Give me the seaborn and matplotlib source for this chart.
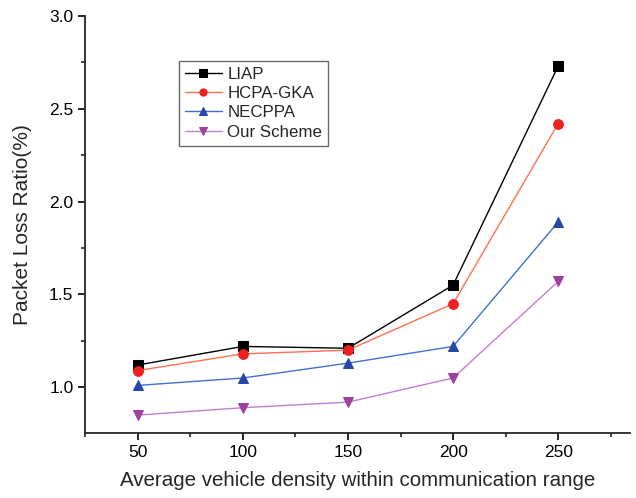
import seaborn as sns
import matplotlib.pyplot as plt
import pandas as pd

# Values
density = [50, 100, 150, 200, 250]
liap = [1.12, 1.22, 1.21, 1.55, 2.73]
hcpa_gka = [1.09, 1.18, 1.20, 1.45, 2.42]
necppa = [1.01, 1.05, 1.13, 1.22, 1.89]
our_scheme = [0.85, 0.89, 0.92, 1.05, 1.57]

series = [
    ('LIAP', liap, 's', '#000000', '#000000'),
    ('HCPA-GKA', hcpa_gka, 'o', '#FF7050', '#EE2020'),
    ('NECPPA', necppa, '^', '#4070D0', '#2848A8'),
    ('Our Scheme', our_scheme, 'v', '#C080D0', '#A040A0'),
]

sns.set_style("ticks")
plt.rcParams['font.family'] = ['Liberation Sans', 'DejaVu Sans']

fig = plt.figure(figsize=(6.36, 4.98), dpi=100)
ax = fig.add_axes([0.134, 0.131, 0.856, 0.837])

for name, vals, marker, line_c, mark_c in series:
    df = pd.DataFrame({'density': density, 'ratio': vals})
    sns.lineplot(data=df, x='density', y='ratio', ax=ax, label=name,
                 color=line_c, linewidth=1.0, marker=marker, markersize=7,
                 markerfacecolor=mark_c, markeredgecolor=mark_c)

ax.set_xlim(25, 284)
ax.set_ylim(0.755, 3.0)
ax.set_xticks(density)
ax.set_xticks([25, 75, 125, 175, 225, 275], minor=True)
ax.set_yticks([1.0, 1.5, 2.0, 2.5, 3.0])
ax.set_yticks([1.25, 1.75, 2.25, 2.75], minor=True)
ax.set_yticklabels(['1.0', '1.5', '2.0', '2.5', '3.0'])
ax.tick_params(axis='both', which='major', labelsize=12.5, length=5, width=1.2,
               direction='out', colors='black')
ax.tick_params(axis='both', which='minor', length=3, width=1.2, direction='out')

for side in ['top', 'right']:
    ax.spines[side].set_visible(False)
for side in ['left', 'bottom']:
    ax.spines[side].set_linewidth(1.3)

ax.set_xlabel('Average vehicle density within communication range',
              fontsize=14.8, labelpad=8)
ax.set_ylabel('Packet Loss Ratio(%)', fontsize=15, labelpad=12)

leg = ax.legend(loc='upper left', bbox_to_anchor=(0.172, 0.892), fontsize=12.2,
                frameon=True, fancybox=False, edgecolor='#444444',
                handlelength=2.2, handletextpad=0.3, borderpad=0.35,
                labelspacing=0.25, markerscale=0.75, borderaxespad=0)
leg.get_frame().set_linewidth(1.0)

plt.savefig('out.png', dpi=100)
